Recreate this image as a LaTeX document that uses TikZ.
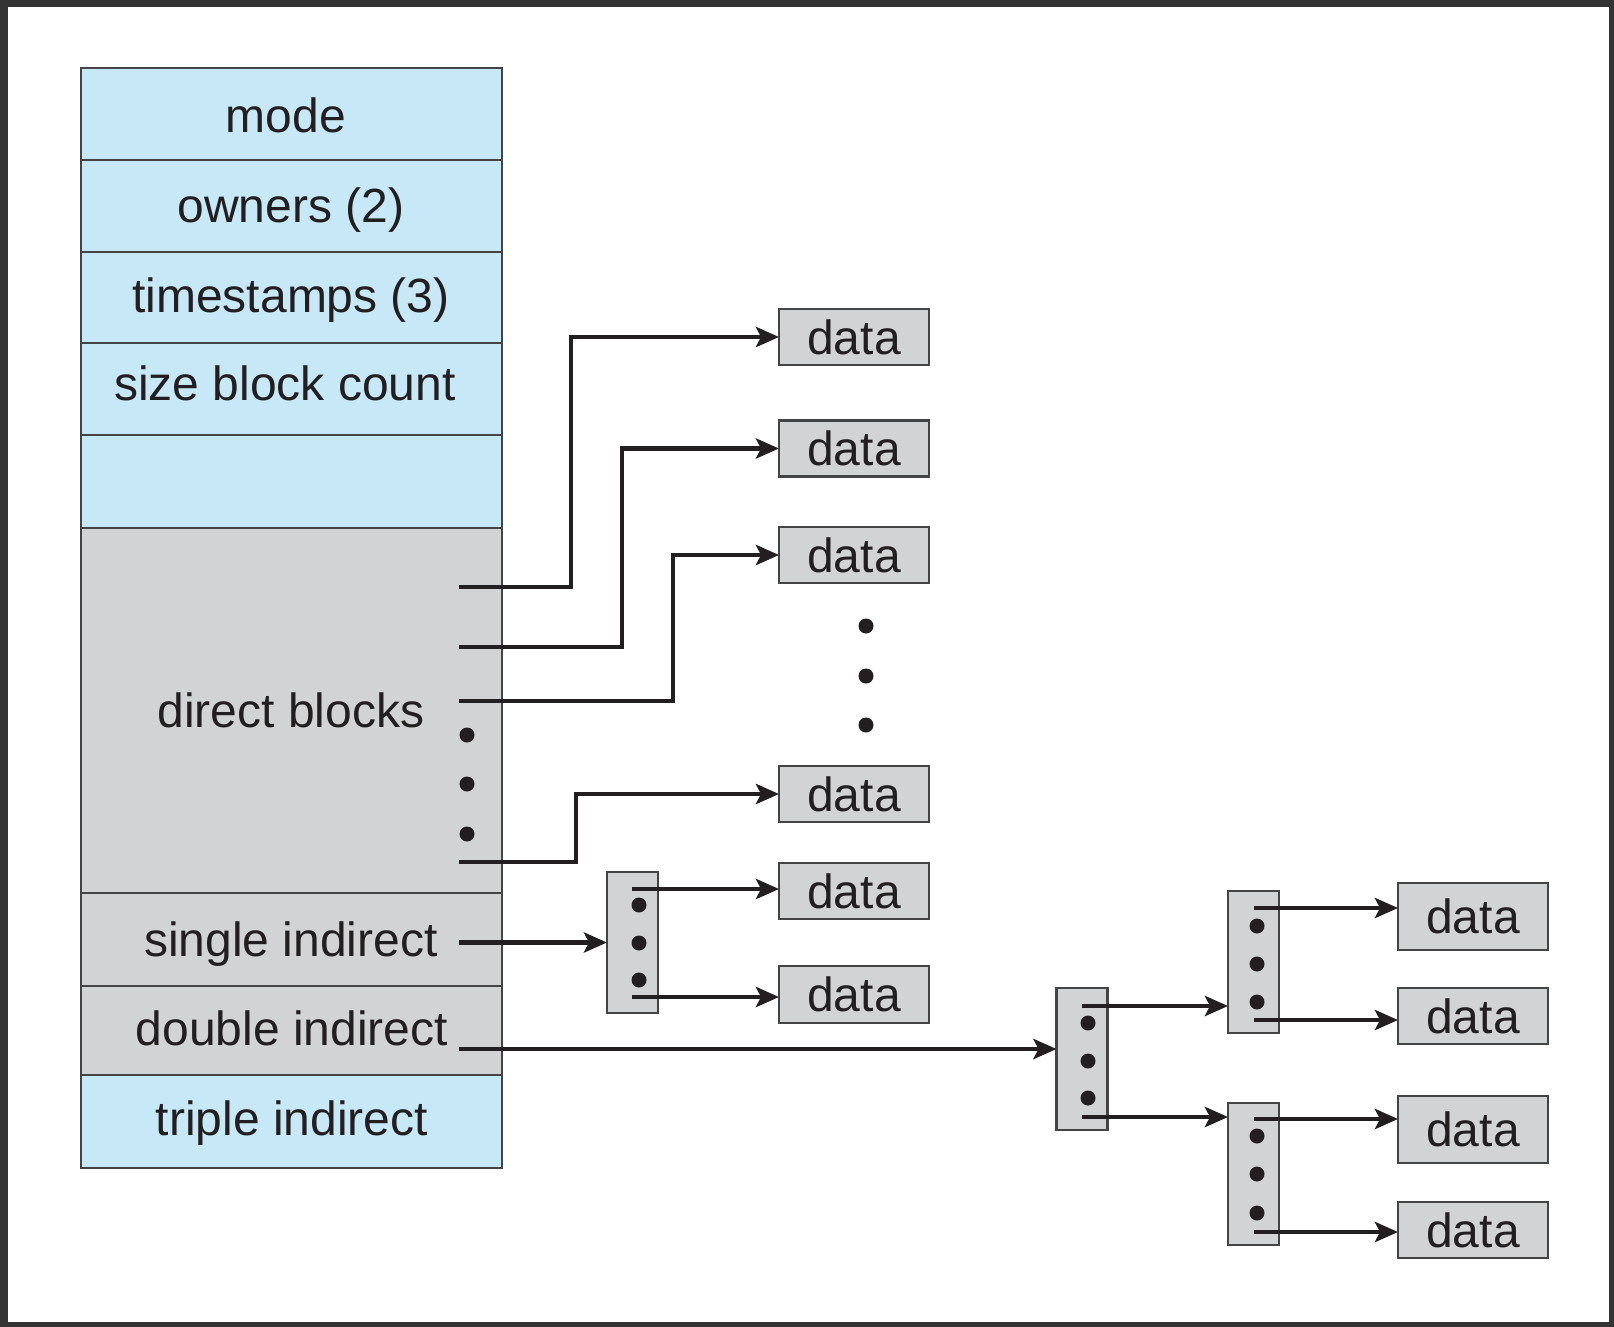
\documentclass[tikz,border=0pt]{standalone}
\usepackage{fontspec}
\setmainfont{Liberation Sans}
\usetikzlibrary{arrows.meta,calc}
\definecolor{ink}{HTML}{231F20}
\definecolor{rim}{HTML}{444444}
\definecolor{cellblue}{HTML}{C6E8F7}
\definecolor{cellgray}{HTML}{D1D3D4}
\definecolor{framegray}{HTML}{333333}

\begin{document}
\begin{tikzpicture}[x=1pt,y=-1pt,
  cell/.style={draw=rim, line width=2.8pt, minimum width=421pt, anchor=north west,
               inner sep=0pt, outer sep=0pt},
  bluecell/.style={cell, fill=cellblue},
  graycell/.style={cell, fill=cellgray},
  lbl/.style={text=ink, anchor=base, inner sep=0pt, font=\fontsize{48}{56}\selectfont},
  datab/.style={draw=rim, fill=cellgray, line width=2.8pt, minimum width=150pt,
                inner sep=0pt, outer sep=0pt, text=ink, font=\fontsize{48}{56}\selectfont},
  idxblock/.style={draw=rim, fill=cellgray, line width=2.8pt, minimum width=51pt,
                   minimum height=142pt, inner sep=0pt, outer sep=0pt},
  dot/.style={circle, fill=ink, inner sep=0pt, minimum size=15pt},
  link/.style={draw=ink, line width=4.6pt},
  arr/.style={link, -{Stealth[length=23pt,width=20pt,inset=5pt]}}]

\useasboundingbox (0,0) rectangle (1614,1327);
% outer frame
\fill[framegray] (0,0) rectangle (1614,1327);
\fill[white] (8,7) rectangle (1609,1322);

% inode table
\node[bluecell, minimum height=92pt]  (rmode)  at (81,68)   {};
\node[bluecell, minimum height=92pt]  (rown)   at (81,160)  {};
\node[bluecell, minimum height=91pt]  (rtime)  at (81,252)  {};
\node[bluecell, minimum height=92pt]  (rsize)  at (81,343)  {};
\node[bluecell, minimum height=93pt]  (rblank) at (81,435)  {};
\node[graycell, minimum height=365pt] (rdir)   at (81,528)  {};
\node[graycell, minimum height=93pt]  (rsgl)   at (81,893)  {};
\node[graycell, minimum height=89pt]  (rdbl)   at (81,986)  {};
\node[bluecell, minimum height=93pt]  (rtri)   at (81,1075) {};

\node[lbl] (tmode) at (286,132)  {mode};
\node[lbl] (town)  at (291,222)  {owners (2)};
\node[lbl] (ttime) at (291,312)  {timestamps (3)};
\node[lbl] (tsize) at (285,400)  {size block count};
\node[lbl] (tdir)  at (291,727)  {direct blocks};
\node[lbl] (tsgl)  at (291,956)  {single indirect};
\node[lbl] (tdbl)  at (292,1045) {double indirect};
\node[lbl] (ttri)  at (292,1135) {triple indirect};

% data blocks reached directly
\node[datab, minimum height=56pt] (d1) at (854,337)   {data};
\node[datab, minimum height=56pt] (d2) at (854,448.5) {data};
\node[datab, minimum height=56pt] (d3) at (854,555)   {data};
\node[datab, minimum height=56pt] (d4) at (854,794)   {data};
\node[datab, minimum height=56pt] (d5) at (854,891)   {data};
\node[datab, minimum height=57pt] (d6) at (854,994.5) {data};

% data blocks behind the double indirect block
\node[datab, minimum height=67pt] (r1) at (1473,916.5)  {data};
\node[datab, minimum height=56pt] (r2) at (1473,1016)   {data};
\node[datab, minimum height=67pt] (r3) at (1473,1129.5) {data};
\node[datab, minimum height=56pt] (r4) at (1473,1230)   {data};

% index blocks
\node[idxblock, minimum height=141pt] (sgl) at (632.5,942.5) {};
\node[idxblock] (dbl) at (1082,1059)  {};
\node[idxblock] (up)  at (1253.5,962) {};
\node[idxblock] (lo)  at (1253.5,1174) {};

% pointer origins
\coordinate (p1) at (459,587);
\coordinate (p2) at (459,647);
\coordinate (p3) at (459,701);
\coordinate (p4) at (459,862);
\coordinate (ps) at (459,942.5);
\coordinate (pd) at (459,1049);
\coordinate (s1) at (632,889);
\coordinate (s2) at (632,997);
\coordinate (q1) at (1082,1006);
\coordinate (q2) at (1082,1117);
\coordinate (u1) at (1254,908);
\coordinate (u2) at (1254,1020);
\coordinate (l1) at (1254,1119);
\coordinate (l2) at (1254,1232);

% direct pointers
\draw[arr] (p1) -- ++(112,0) |- (d1.west);
\draw[arr] (p2) -- ++(163,0) |- (d2.west);
\draw[arr] (p3) -- ++(214,0) |- (d3.west);
\draw[arr] (p4) -- ++(117,0) |- (d4.west);

% single indirect
\draw[arr] (ps) -- (sgl.west);
\draw[arr] (s1) -- (s1 -| d5.west);
\draw[arr] (s2) -- (s2 -| d6.west);

% double indirect
\draw[arr] (pd) -- (pd -| dbl.west);
\draw[arr] (q1) -- (q1 -| up.west);
\draw[arr] (q2) -- (q2 -| lo.west);
\draw[arr] (u1) -- (u1 -| r1.west);
\draw[arr] (u2) -- (u2 -| r2.west);
\draw[arr] (l1) -- (l1 -| r3.west);
\draw[arr] (l2) -- (l2 -| r4.west);

% ellipsis dots
\foreach \y in {735,784,834} \node[dot] at (467,\y) {};
\foreach \y in {626,676,725} \node[dot] at (866,\y) {};
\foreach \y in {905,943,980} \node[dot] at (639,\y) {};
\foreach \y in {1023,1061,1098} \node[dot] at (1088,\y) {};
\foreach \y in {926,964,1002} \node[dot] at (1257,\y) {};
\foreach \y in {1136,1174,1213} \node[dot] at (1257,\y) {};
\end{tikzpicture}
\end{document}
